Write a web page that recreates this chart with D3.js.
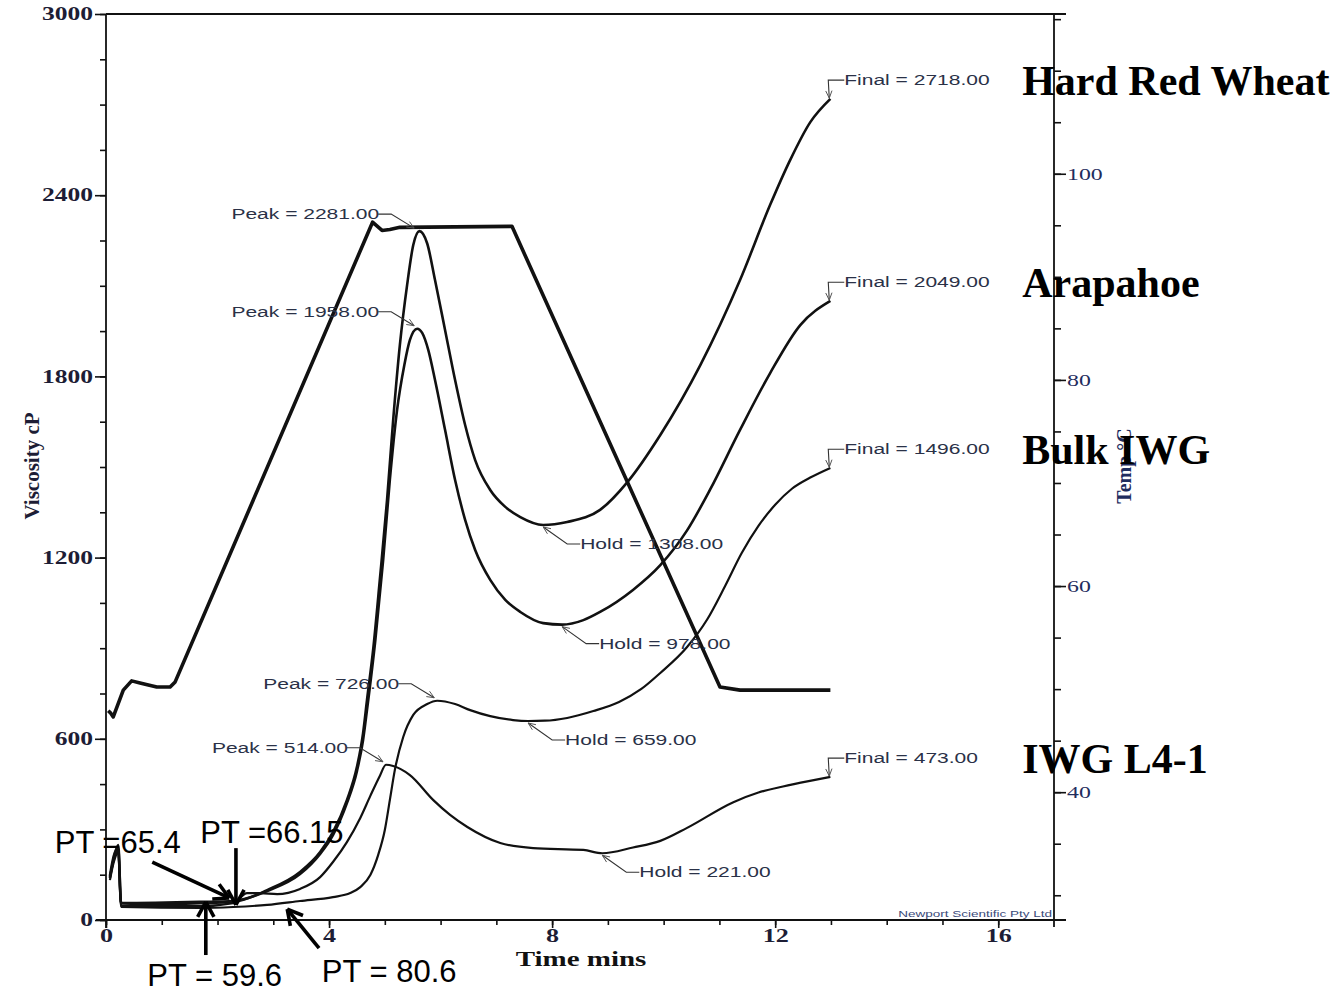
<!DOCTYPE html>
<html lang="en">
<head>
<meta charset="UTF-8">
<title>RVA pasting curves</title>
<script src="https://cdn.jsdelivr.net/npm/d3@7/dist/d3.min.js"></script>
<style>
	body { margin: 0; background: #fff; }
	svg { display: block; }
</style>
</head>
<body>
<svg></svg>
<script>
	// samples and the RVA readings printed on the chart
	var samples = ['Hard Red Wheat', 'Arapahoe', 'Bulk IWG', 'IWG L4-1'];
	var peakValues = [2281, 1958, 726, 514];
	var peakTimes = [5.58, 5.58, 5.94, 5.02];
	var holdValues = [1308, 978, 659, 221];
	var holdTimes = [7.84, 8.18, 7.57, 8.9];
	var finalValues = [2718, 2049, 1496, 473];
	var finalTime = 12.97;
	var ptLabels = ['PT =65.4', 'PT =66.15', 'PT = 59.6', 'PT = 80.6'];

	// [time (min), viscosity (cP)]
	var hardRedWheat = [
		[0.07, 139], [0.14, 205], [0.22, 248], [0.27, 56], [0.79, 53], [1.69, 56], [2.28, 60],
		[2.89, 99], [3.48, 159], [3.84, 225], [4.07, 291], [4.32, 397], [4.50, 507], [4.61, 619],
		[4.68, 728], [4.79, 894], [4.91, 1126], [5.04, 1391], [5.15, 1656], [5.27, 1904],
		[5.40, 2103], [5.51, 2235], [5.62, 2281], [5.76, 2240], [5.90, 2119], [6.08, 1954],
		[6.26, 1788], [6.44, 1639], [6.62, 1523], [6.89, 1424], [7.16, 1368], [7.43, 1334],
		[7.84, 1308], [8.27, 1318], [8.86, 1358], [9.35, 1450], [9.94, 1606], [10.66, 1838],
		[11.37, 2119], [11.91, 2368], [12.27, 2517], [12.63, 2642], [12.99, 2719]
	];
	var arapahoe = [
		[0.07, 146], [0.14, 212], [0.22, 238], [0.27, 56], [1.69, 60], [2.28, 63], [2.89, 96],
		[3.48, 152], [3.84, 219], [4.07, 281], [4.32, 387], [4.50, 493], [4.61, 596], [4.68, 695],
		[4.83, 927], [4.97, 1192], [5.09, 1457], [5.22, 1689], [5.35, 1838], [5.45, 1921],
		[5.58, 1958], [5.67, 1944], [5.78, 1887], [5.90, 1788], [6.08, 1623], [6.26, 1457],
		[6.44, 1325], [6.62, 1225], [6.89, 1126], [7.16, 1060], [7.43, 1020], [7.84, 983],
		[8.18, 978], [8.56, 993], [8.86, 1020], [9.45, 1093], [9.94, 1175], [10.42, 1290],
		[10.83, 1424], [11.37, 1623], [11.91, 1811], [12.45, 1970], [12.99, 2050]
	];
	var bulkIWG = [
		[0.07, 132], [0.14, 192], [0.22, 225], [0.27, 43], [1.69, 40], [2.28, 43], [2.89, 50],
		[3.48, 63], [4.07, 76], [4.38, 89], [4.56, 109], [4.74, 149], [4.88, 215], [5.00, 298],
		[5.09, 397], [5.18, 497], [5.33, 606], [5.51, 679], [5.76, 715], [5.94, 726], [6.26, 715],
		[6.53, 695], [6.89, 675], [7.30, 662], [7.57, 659], [7.87, 660], [8.27, 669], [8.74, 692],
		[9.20, 722], [9.60, 765], [9.94, 818], [10.42, 904], [10.78, 995], [11.10, 1105],
		[11.40, 1215], [11.70, 1305], [12.00, 1375], [12.30, 1428], [12.63, 1465], [12.99, 1497]
	];
	var iwgL41 = [
		[0.07, 142], [0.14, 199], [0.22, 232], [0.27, 46], [1.69, 46], [2.28, 56], [2.53, 89],
		[2.76, 89], [3.07, 86], [3.48, 103], [3.84, 142], [4.07, 192], [4.32, 258], [4.56, 338],
		[4.74, 411], [4.91, 477], [5.02, 514], [5.15, 510], [5.45, 480], [5.87, 397], [6.17, 348],
		[6.48, 308], [7.07, 255], [7.66, 238], [8.56, 232], [8.90, 221], [9.45, 240], [9.94, 262],
		[10.42, 305], [11.25, 390], [11.70, 422], [12.14, 442], [12.60, 460], [12.99, 474]
	];
	// [time (min), temperature (C)]
	var temperature = [
		[0.04, 47.9], [0.08, 47.7], [0.13, 47.3], [0.31, 49.9], [0.46, 50.8], [0.61, 50.6],
		[0.91, 50.2], [1.15, 50.2], [1.24, 50.7], [4.78, 95.3], [4.95, 94.5], [5.09, 94.6],
		[5.27, 94.8], [7.28, 94.9], [11.01, 50.2], [11.37, 49.9], [12.99, 49.9]
	];
	var curves = [hardRedWheat, arapahoe, bulkIWG, iwgL41];

	var timeTicks = [0, 4, 8, 12, 16];
	var viscosityTicks = [0, 600, 1200, 1800, 2400, 3000];
	var tempTicks = [40, 60, 80, 100];

	var margin = {top: 14, left: 106};
	var width = 948;
	var height = 906;

	var svg = d3.select('svg')
		.attr('width', 1344)
		.attr('height', 992);
	var g = svg.append('g')
		.attr('transform', 'translate(' + margin.left + ',' + margin.top + ')');

	var x = d3.scaleLinear().domain([0, 17]).range([0, width]);
	var y = d3.scaleLinear().domain([0, 3000]).range([height, 0]);
	var yTemp = d3.scaleLinear().domain([27.6, 115.5]).range([height, 0]);

	// stretch text horizontally, the source image is widened
	function stretch(sel, k) {
		sel.each(function () {
			var w = this.getComputedTextLength();
			d3.select(this).attr('textLength', w * k).attr('lengthAdjust', 'spacingAndGlyphs');
		});
	}

	function styleAxis(ax) {
		ax.select('.domain').remove();
		ax.selectAll('line').attr('stroke', '#111').attr('stroke-width', 1.6);
		ax.selectAll('text')
			.attr('fill', '#1d1d35')
			.style('font-family', '"Liberation Serif", serif')
			.style('font-weight', 'bold')
			.style('font-size', '18px');
	}

	var fmt = d3.format('d');

	// left axis
	var ax = g.append('g').call(d3.axisLeft(y).tickValues(d3.range(0, 3001, 150)).tickSize(6).tickFormat(''));
	styleAxis(ax);
	ax = g.append('g').call(d3.axisLeft(y).tickValues(viscosityTicks).tickSize(11).tickPadding(2).tickFormat(fmt));
	styleAxis(ax);
	stretch(ax.selectAll('text'), 1.42);

	// bottom axis
	ax = g.append('g').attr('transform', 'translate(0,' + height + ')')
		.call(d3.axisBottom(x).tickValues(d3.range(0, 17)).tickSize(5).tickFormat(''));
	styleAxis(ax);
	ax = g.append('g').attr('transform', 'translate(0,' + height + ')')
		.call(d3.axisBottom(x).tickValues(timeTicks).tickSize(8).tickPadding(1).tickFormat(fmt));
	styleAxis(ax);
	stretch(ax.selectAll('text'), 1.45);

	// right (temperature) axis
	ax = g.append('g').attr('transform', 'translate(' + width + ',0)')
		.call(d3.axisRight(yTemp).tickValues(d3.range(30, 116, 5)).tickSize(7).tickFormat(''));
	styleAxis(ax);
	ax = g.append('g').attr('transform', 'translate(' + width + ',0)')
		.call(d3.axisRight(yTemp).tickValues(tempTicks).tickSize(12).tickPadding(1).tickFormat(fmt));
	styleAxis(ax);
	ax.selectAll('text').attr('fill', '#1f2d5e').style('font-weight', 'normal').style('font-size', '17px');
	stretch(ax.selectAll('text'), 1.4);

	// frame
	var frame = g.append('g').attr('stroke', '#111').attr('stroke-width', 1.8);
	frame.append('line').attr('x1', 0).attr('x2', 0).attr('y1', 0).attr('y2', height + 8);
	frame.append('line').attr('x1', -10).attr('x2', width + 12).attr('y1', height).attr('y2', height);
	frame.append('line').attr('x1', 0).attr('x2', width + 12).attr('y1', 0).attr('y2', 0);
	frame.append('line').attr('x1', width).attr('x2', width).attr('y1', 0).attr('y2', height + 7);

	// axis titles
	g.append('text')
		.attr('transform', 'translate(-67,' + (466 - margin.top) + ') rotate(-90)')
		.attr('text-anchor', 'middle')
		.attr('fill', '#1d1d35')
		.style('font-family', '"Liberation Serif", serif')
		.style('font-weight', 'bold')
		.style('font-size', '21px')
		.text('Viscosity cP');

	var tl = g.append('text')
		.attr('x', 475)
		.attr('y', height + 46)
		.attr('text-anchor', 'middle')
		.attr('fill', '#111')
		.style('font-family', '"Liberation Serif", serif')
		.style('font-weight', 'bold')
		.style('font-size', '21px')
		.text('Time mins');
	stretch(tl, 1.38);

	g.append('text')
		.attr('transform', 'translate(' + (width + 77) + ',' + (466 - margin.top) + ') rotate(-90)')
		.attr('text-anchor', 'middle')
		.attr('fill', '#1f2d5e')
		.style('font-family', '"Liberation Serif", serif')
		.style('font-weight', 'bold')
		.style('font-size', '20px')
		.text('Temp \u00b0C');

	var np = g.append('text')
		.attr('x', width - 2)
		.attr('y', height - 3)
		.attr('text-anchor', 'end')
		.attr('fill', '#3a4a7a')
		.style('font-family', '"Liberation Sans", sans-serif')
		.style('font-size', '9px')
		.text('Newport Scientific Pty Ltd');
	stretch(np, 1.5);

	// lines
	var line = d3.line()
		.x(function (d) { return x(d[0]); })
		.y(function (d) { return y(d[1]); })
		.curve(d3.curveMonotoneX);

	var tempLine = d3.line()
		.x(function (d) { return x(d[0]); })
		.y(function (d) { return yTemp(d[1]); });

	g.append('path')
		.datum(temperature)
		.attr('fill', 'none')
		.attr('stroke', '#111')
		.attr('stroke-width', 3.6)
		.attr('stroke-linejoin', 'round')
		.attr('d', tempLine);

	g.selectAll('.curve')
		.data(curves)
		.enter()
		.append('path')
		.attr('class', 'curve')
		.attr('fill', 'none')
		.attr('stroke', '#111')
		.attr('stroke-width', function (d, i) { return i < 2 ? 2.6 : 2.2; })
		.attr('stroke-linejoin', 'round')
		.attr('d', line);

	// annotation helpers
	function arrowHead(sel, from, to, len, ang, color, w) {
		var a = Math.atan2(to[1] - from[1], to[0] - from[0]);
		[-ang, ang].forEach(function (s) {
			sel.append('line')
				.attr('x1', to[0]).attr('y1', to[1])
				.attr('x2', to[0] - len * Math.cos(a + s))
				.attr('y2', to[1] - len * Math.sin(a + s))
				.attr('stroke', color).attr('stroke-width', w);
		});
	}

	function noteText(px, py, anchor, txt) {
		var t = g.append('text')
			.attr('x', px).attr('y', py)
			.attr('text-anchor', anchor)
			.attr('fill', '#2a3147')
			.style('font-family', '"Liberation Sans", sans-serif')
			.style('font-size', '14px')
			.text(txt);
		stretch(t, 1.5);
	}

	var notes = g.append('g');

	peakValues.forEach(function (v, i) {
		var tip = [x(peakTimes[i]) - 3, y(v) - 3];
		var elbow = [tip[0] - 23, tip[1] - 14];
		notes.append('path')
			.attr('d', 'M' + (elbow[0] - 13) + ',' + elbow[1] + 'L' + elbow[0] + ',' + elbow[1] + 'L' + tip[0] + ',' + tip[1])
			.attr('fill', 'none').attr('stroke', '#333').attr('stroke-width', 1.1);
		arrowHead(notes, elbow, tip, 8, 0.4, '#555', 1);
		noteText(elbow[0] - 12, elbow[1] + 5, 'end', 'Peak = ' + v.toFixed(2));
	});

	holdValues.forEach(function (v, i) {
		var tip = [x(holdTimes[i]), y(v) + 2];
		var elbow = [tip[0] + 24, tip[1] + 17];
		notes.append('path')
			.attr('d', 'M' + tip[0] + ',' + tip[1] + 'L' + elbow[0] + ',' + elbow[1] + 'L' + (elbow[0] + 13) + ',' + elbow[1])
			.attr('fill', 'none').attr('stroke', '#333').attr('stroke-width', 1.1);
		arrowHead(notes, elbow, tip, 8, 0.4, '#555', 1);
		noteText(elbow[0] + 13, elbow[1] + 5, 'start', 'Hold = ' + v.toFixed(2));
	});

	finalValues.forEach(function (v) {
		var tip = [x(finalTime), y(v) - 1];
		var corner = [tip[0] - 1, tip[1] - 18];
		notes.append('path')
			.attr('d', 'M' + tip[0] + ',' + tip[1] + 'L' + corner[0] + ',' + corner[1] + 'L' + (corner[0] + 16) + ',' + corner[1])
			.attr('fill', 'none').attr('stroke', '#333').attr('stroke-width', 1.1);
		arrowHead(notes, corner, tip, 8, 0.4, '#555', 1);
		noteText(corner[0] + 16, corner[1] + 5, 'start', 'Final = ' + v.toFixed(2));
	});

	// sample names at the right, level with each final value
	g.selectAll('.sample')
		.data(samples)
		.enter()
		.append('text')
		.attr('class', 'sample')
		.attr('x', x(16.43))
		.attr('y', function (d, i) { return y(finalValues[i]) - 4; })
		.attr('fill', '#000')
		.style('font-family', '"Liberation Serif", serif')
		.style('font-weight', 'bold')
		.style('font-size', '42px')
		.text(function (d) { return d; });

	// pasting temperature call-outs: text anchor and arrow, in time / viscosity units
	var ptLayout = [
		{text: [-0.92, 222], from: [0.83, 192], to: [2.21, 73]},
		{text: [1.69, 255], from: [2.33, 238], to: [2.33, 50]},
		{text: [0.74, -219], from: [1.79, -116], to: [1.79, 60]},
		{text: [3.87, -205], from: [3.82, -93], to: [3.25, 36]}
	];
	var pt = g.append('g');
	ptLabels.forEach(function (lbl, i) {
		var p = ptLayout[i];
		var a = [x(p.from[0]), y(p.from[1])];
		var b = [x(p.to[0]), y(p.to[1])];
		pt.append('line')
			.attr('x1', a[0]).attr('y1', a[1]).attr('x2', b[0]).attr('y2', b[1])
			.attr('stroke', '#000').attr('stroke-width', 3.6);
		arrowHead(pt, a, b, 17, 0.5, '#000', 3.6);
		pt.append('text')
			.attr('x', x(p.text[0]))
			.attr('y', y(p.text[1]))
			.attr('fill', '#000')
			.style('font-family', '"Liberation Sans", sans-serif')
			.style('font-size', '31px')
			.text(lbl);
	});
</script>
</body>
</html>
